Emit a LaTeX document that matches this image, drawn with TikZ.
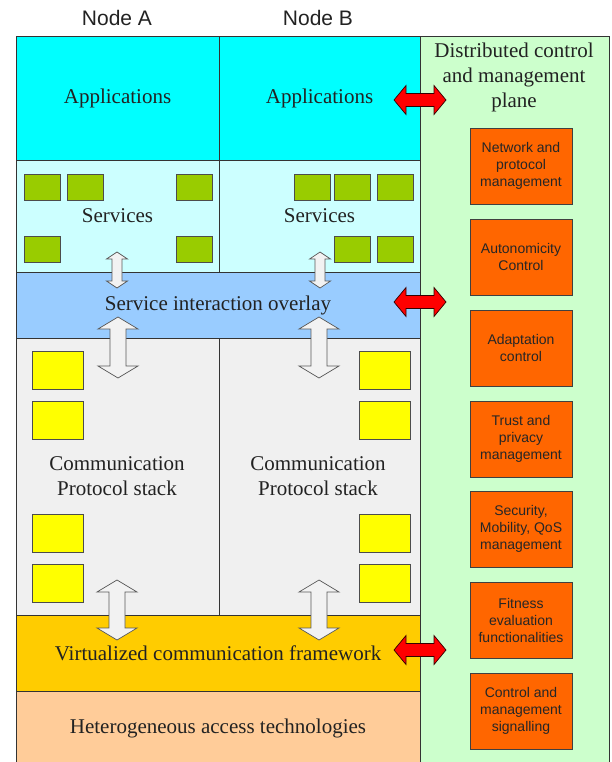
\documentclass[tikz,border=0pt]{standalone}
\usepackage{fontspec}
\setmainfont{Liberation Serif}
\newfontfamily\arialf{Liberation Sans}
\definecolor{appc}{HTML}{00FFFF}
\definecolor{srvc}{HTML}{CCFFFF}
\definecolor{ovlc}{HTML}{99CCFF}
\definecolor{comc}{HTML}{F0F0F0}
\definecolor{virc}{HTML}{FFCC00}
\definecolor{hetc}{HTML}{FFCC99}
\definecolor{plnc}{HTML}{CCFFCC}
\definecolor{grnc}{HTML}{99CC00}
\definecolor{yelc}{HTML}{FFFF00}
\definecolor{orac}{HTML}{FF6600}
\definecolor{txtc}{HTML}{222222}
\definecolor{wac}{HTML}{F2F2F2}
\tikzset{
  layer/.style={draw=black!80, line width=0.8pt, inner sep=0pt, align=center,
    text=txtc, font=\fontsize{21}{25}\selectfont},
  gsq/.style={draw=black!70, line width=0.7pt, fill=grnc, anchor=north west,
    minimum width=36pt, minimum height=26pt, inner sep=0pt},
  ysq/.style={draw=black!70, line width=0.7pt, fill=yelc, anchor=north west,
    minimum width=51pt, minimum height=38pt, inner sep=0pt},
  obox/.style={draw=black!75, line width=0.8pt, fill=orac, minimum width=102pt,
    minimum height=76pt, inner sep=0pt, align=center, text=black!85,
    font=\arialf\fontsize{14}{17}\selectfont},
  warrow/.style={draw=black!65, fill=wac, line width=0.7pt},
  rarrow/.style={draw=black!80!red, fill=red, line width=0.7pt},
  hdr/.style={font=\arialf\fontsize{21}{25}\selectfont, text=txtc}
}
% vertical double arrow: cx, y1, y2, head half, shaft half, head length
\newcommand{\myvarrow}[7]{%
  \draw[#7] (#1,#2) -- ++(#4,#6) -- (#1+#5,#2+#6) -- (#1+#5,#3-#6) -- (#1+#4,#3-#6)
    -- (#1,#3) -- (#1-#4,#3-#6) -- (#1-#5,#3-#6) -- (#1-#5,#2+#6) -- (#1-#4,#2+#6) -- cycle;}
% horizontal double arrow: cy, x1, x2, head half, shaft half, head length
\newcommand{\myharrow}[7]{%
  \draw[#7] (#2,#1) -- (#2+#6,#1-#4) -- (#2+#6,#1-#5) -- (#3-#6,#1-#5) -- (#3-#6,#1-#4)
    -- (#3,#1) -- (#3-#6,#1+#4) -- (#3-#6,#1+#5) -- (#2+#6,#1+#5) -- (#2+#6,#1+#4) -- cycle;}
\begin{document}
\begin{tikzpicture}[x=1pt,y=-1pt]
\clip (0,0) rectangle (612,762);
\fill[white] (0,0) rectangle (612,762);

% headers
\node[hdr] (hA) at (117,18) {Node A};
\node[hdr] (hB) at (318,18) {Node B};

% control plane
\node[layer, fill=plnc, minimum width=189pt, minimum height=760pt, anchor=north west] (plane) at (420,36) {};
\node[layer, draw=none] (ptitle) at (514,77) {Distributed control\\and management\\plane};

% layers
\node[layer, fill=appc, minimum width=203pt, minimum height=124pt] (appA) at (117.5,98) {Applications};
\node[layer, fill=appc, minimum width=201pt, minimum height=124pt] (appB) at (319.5,98) {Applications};
\node[layer, fill=srvc, minimum width=203pt, minimum height=112pt] (srvA) at (117.5,216) {Services};
\node[layer, fill=srvc, minimum width=201pt, minimum height=112pt] (srvB) at (319.5,216) {Services};
\node[layer, fill=ovlc, minimum width=404pt, minimum height=66pt] (ovl) at (218,305) {Service interaction overlay};
\node[layer, fill=comc, minimum width=203pt, minimum height=277pt] (comA) at (117.5,476.5) {};
\node[layer, fill=comc, minimum width=201pt, minimum height=277pt] (comB) at (319.5,476.5) {};
\node[layer, draw=none] (comAt) at (117,476) {Communication\\Protocol stack};
\node[layer, draw=none] (comBt) at (318,476) {Communication\\Protocol stack};
\node[layer, fill=virc, minimum width=404pt, minimum height=76pt] (virt) at (218,653) {Virtualized communication framework};
\node[layer, fill=hetc, minimum width=404pt, minimum height=74pt] (het) at (218,728) {Heterogeneous access technologies};

% green service squares
\node[gsq] (gA1) at (24,174) {};
\node[gsq] (gA2) at (67,174) {};
\node[gsq] (gA3) at (176,174) {};
\node[gsq] (gA4) at (24,236) {};
\node[gsq] (gA5) at (176,236) {};
\node[gsq] (gB1) at (294,174) {};
\node[gsq] (gB2) at (334,174) {};
\node[gsq] (gB3) at (377,174) {};
\node[gsq] (gB4) at (334,236) {};
\node[gsq] (gB5) at (377,236) {};

% yellow protocol squares
\foreach \yy/\i in {351/1,401/2,514/3,564/4}{
  \node[ysq] (yA\i) at (32,\yy) {};
  \node[ysq] (yB\i) at (359,\yy) {};
}

% white arrows
\myvarrow{117}{252}{288}{10.5}{5}{7}{warrow}
\myvarrow{320}{252}{288}{10.5}{5}{7}{warrow}
\myvarrow{118}{317}{378}{20}{8}{12}{warrow}
\myvarrow{319}{317}{378}{20}{8}{12}{warrow}
\myvarrow{117}{580}{640}{20}{8}{12}{warrow}
\myvarrow{319}{580}{640}{20}{8}{12}{warrow}

% red arrows
\myharrow{100}{394}{446}{14.5}{6.5}{12}{rarrow}
\myharrow{302}{394}{446}{14.5}{6.5}{12}{rarrow}
\myharrow{650}{394}{446}{14.5}{6.5}{12}{rarrow}

% orange function boxes
\node[obox] (o1) at (521,166) {Network and\\protocol\\management};
\node[obox] (o2) at (521,257) {Autonomicity\\Control};
\node[obox] (o3) at (521,348) {Adaptation\\control};
\node[obox] (o4) at (521,439) {Trust and\\privacy\\management};
\node[obox] (o5) at (521,529) {Security,\\Mobility, QoS\\management};
\node[obox] (o6) at (521,620) {Fitness\\evaluation\\functionalities};
\node[obox] (o7) at (521,711) {Control and\\management\\signalling};
\end{tikzpicture}
\end{document}
